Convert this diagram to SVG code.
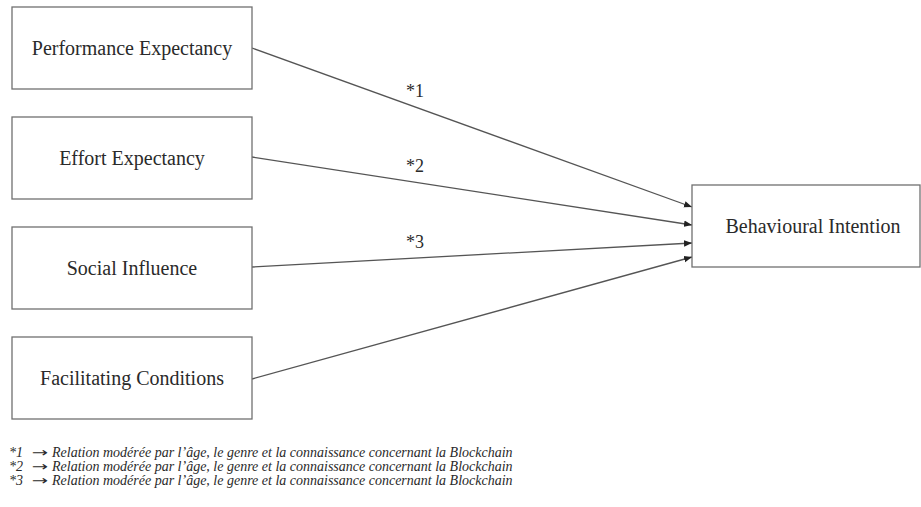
<svg xmlns="http://www.w3.org/2000/svg" width="921" height="507" viewBox="0 0 921 507">
<style>
.box{fill:#fff;stroke:#707070;stroke-width:1.3}
.lbl{font-family:"Liberation Serif","Times New Roman",serif;font-size:20px;fill:#2a2a2a;text-anchor:middle}
.edge{stroke:#555;stroke-width:1.3;fill:none;marker-end:url(#ah)}
.el{font-family:"Liberation Serif","Times New Roman",serif;font-size:18px;fill:#2a2a2a}
.fn{font-family:"Liberation Serif","Times New Roman",serif;font-size:14px;font-style:italic;fill:#2a2a2a}
.ar{font-family:"DejaVu Sans",sans-serif;font-size:13px;fill:#2a2a2a}
</style>
<defs>
<marker id="ah" viewBox="0 0 10 10" refX="10" refY="5" markerWidth="8" markerHeight="8" markerUnits="userSpaceOnUse" orient="auto">
<path d="M0,1 L10,5 L0,9 z" fill="#222"/>
</marker>
</defs>
<rect width="921" height="507" fill="#fff"/>
<g id="connectors">
<line class="edge" x1="252" y1="48" x2="692" y2="207"/>
<line class="edge" x1="252" y1="157" x2="692" y2="225"/>
<line class="edge" x1="252" y1="267" x2="692" y2="243"/>
<line class="edge" x1="252" y1="379" x2="692" y2="257"/>
<text class="el" x="406" y="97">*1</text>
<text class="el" x="406" y="172">*2</text>
<text class="el" x="406" y="248">*3</text>
</g>
<g id="pe"><rect class="box" x="12" y="7" width="240" height="82"/><text class="lbl" x="132" y="55">Performance Expectancy</text></g>
<g id="ee"><rect class="box" x="12" y="117" width="240" height="82"/><text class="lbl" x="132" y="165">Effort Expectancy</text></g>
<g id="si"><rect class="box" x="12" y="227" width="240" height="82"/><text class="lbl" x="132" y="275">Social Influence</text></g>
<g id="fc"><rect class="box" x="12" y="337" width="240" height="82"/><text class="lbl" x="132" y="385">Facilitating Conditions</text></g>
<g id="bi"><rect class="box" x="692" y="185" width="228" height="82"/><text class="lbl" x="813" y="233">Behavioural Intention</text></g>
<g id="notes">
<text class="fn" x="9" y="457">*1</text>
<text class="ar" transform="translate(32,457) scale(1.5,1)">→</text>
<text class="fn" x="52" y="457">Relation modérée par l’âge, le genre et la connaissance concernant la Blockchain</text>
<text class="fn" x="9" y="471">*2</text>
<text class="ar" transform="translate(32,471) scale(1.5,1)">→</text>
<text class="fn" x="52" y="471">Relation modérée par l’âge, le genre et la connaissance concernant la Blockchain</text>
<text class="fn" x="9" y="485">*3</text>
<text class="ar" transform="translate(32,485) scale(1.5,1)">→</text>
<text class="fn" x="52" y="485">Relation modérée par l’âge, le genre et la connaissance concernant la Blockchain</text>
</g>
</svg>
